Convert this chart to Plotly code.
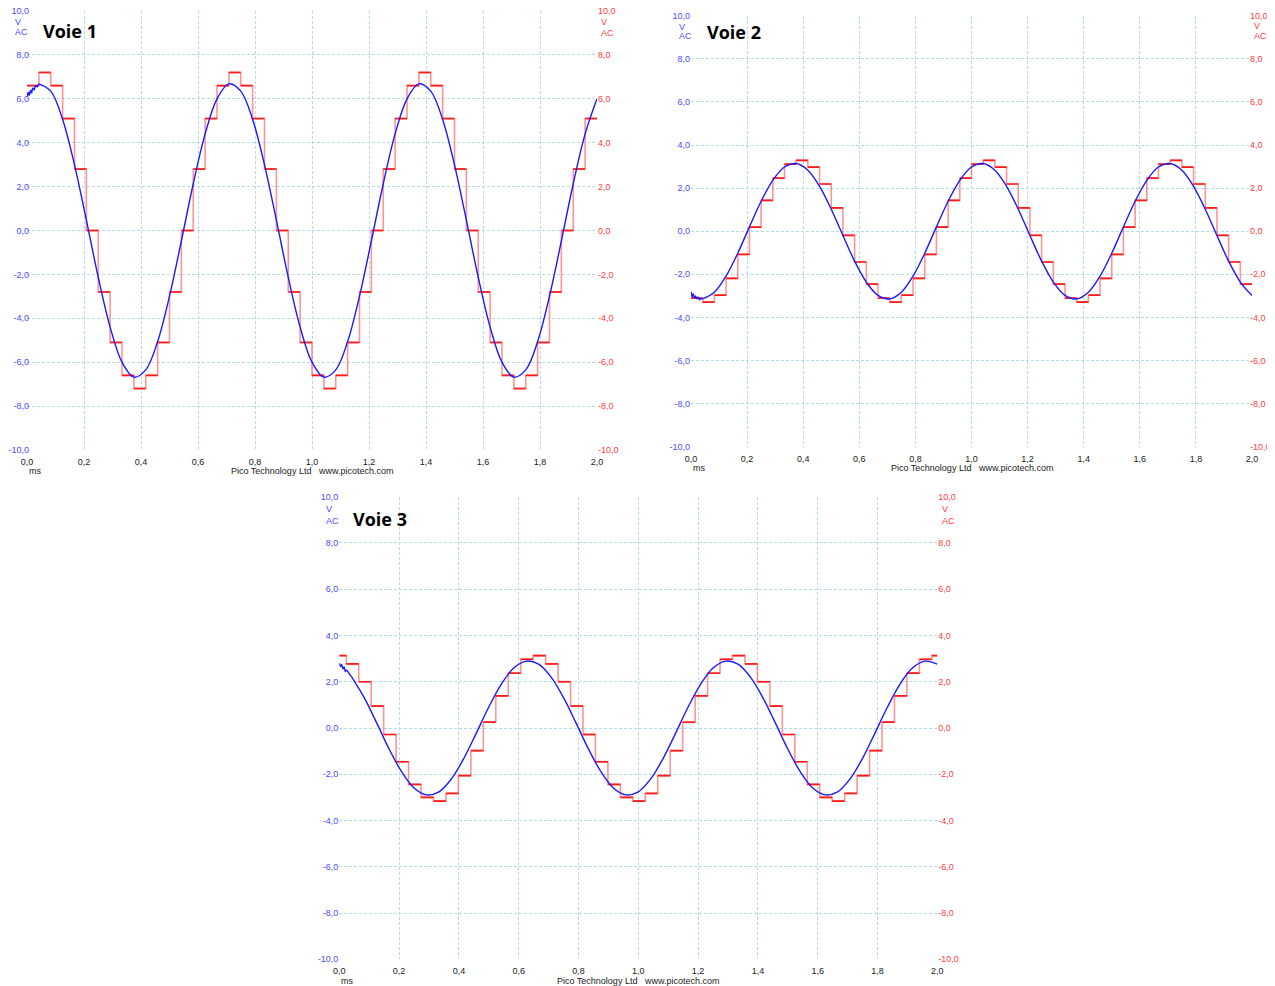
import plotly.graph_objects as go

PAGE_W, PAGE_H = 1275, 986
BODY_MARGIN = 8  # default page margin around the figure
W, H = PAGE_W - BODY_MARGIN, PAGE_H - BODY_MARGIN

# ---------------- data ----------------
X_TICKS = [0.0, 0.2, 0.4, 0.6, 0.8, 1.0, 1.2, 1.4, 1.6, 1.8, 2.0]
X_TICK_TEXT = ["0,0", "0,2", "0,4", "0,6", "0,8", "1,0", "1,2", "1,4", "1,6", "1,8", "2,0"]
Y_TICKS = [-10, -8, -6, -4, -2, 0, 2, 4, 6, 8, 10]
Y_TICK_TEXT = ["-10,0", "-8,0", "-6,0", "-4,0", "-2,0", "0,0", "2,0", "4,0", "6,0", "8,0", "10,0"]
TIME_END = 2.0
STEP_MS = 1 / 24  # duration of one DAC step (ms)

# noisy start of the blue traces (ms)
blue_head_t = [0.0, 0.004, 0.008, 0.012, 0.016, 0.02, 0.025, 0.03, 0.036]
v1_blue_head = [6.1, 6.3, 6.15, 6.4, 6.25, 6.5, 6.4, 6.6, 6.55]
v2_blue_head = [-2.8, -3.05, -2.9, -3.1, -3.0, -3.15, -3.05, -3.18, -3.12]
v3_blue_head = [2.8, 2.65, 2.75, 2.55, 2.65, 2.45, 2.5, 2.38, 2.3]

# blue (measured) samples at t = k*STEP_MS, k = 1..48
v1_blue = [6.68, 6.35, 5.06, 2.99, 0.47, -2.13, -4.40, -6.00, -6.68, -6.35, -5.06, -2.99, -0.47, 2.13, 4.40, 6.00,
           6.68, 6.35, 5.06, 2.99, 0.47, -2.13, -4.40, -6.00, -6.68, -6.35, -5.06, -2.99, -0.47, 2.13, 4.40, 6.00,
           6.68, 6.35, 5.06, 2.99, 0.47, -2.13, -4.40, -6.00, -6.68, -6.35, -5.06, -2.99, -0.47, 2.13, 4.40, 6.00]
v2_blue = [-3.14, -2.83, -2.08, -1.02, 0.20, 1.39, 2.36, 2.98, 3.14, 2.83, 2.08, 1.02, -0.20, -1.39, -2.36, -2.98,
           -3.14, -2.83, -2.08, -1.02, 0.20, 1.39, 2.36, 2.98, 3.14, 2.83, 2.08, 1.02, -0.20, -1.39, -2.36, -2.98,
           -3.14, -2.83, -2.08, -1.02, 0.20, 1.39, 2.36, 2.98, 3.14, 2.83, 2.08, 1.02, -0.20, -1.39, -2.36, -2.98]
v3_blue = [2.20, 1.31, 0.22, -0.91, -1.89, -2.59, -2.89, -2.76, -2.20, -1.31, -0.22, 0.91, 1.89, 2.59, 2.89, 2.76,
           2.20, 1.31, 0.22, -0.91, -1.89, -2.59, -2.89, -2.76, -2.20, -1.31, -0.22, 0.91, 1.89, 2.59, 2.89, 2.76,
           2.20, 1.31, 0.22, -0.91, -1.89, -2.59, -2.89, -2.76, -2.20, -1.31, -0.22, 0.91, 1.89, 2.59, 2.89, 2.76]

# red (DAC staircase) levels, one per step
v1_red = [6.6, 7.2, 6.6, 5.1, 2.8, 0.0, -2.8, -5.1, -6.6, -7.2, -6.6, -5.1, -2.8, 0.0, 2.8, 5.1,
          6.6, 7.2, 6.6, 5.1, 2.8, 0.0, -2.8, -5.1, -6.6, -7.2, -6.6, -5.1, -2.8, 0.0, 2.8, 5.1,
          6.6, 7.2, 6.6, 5.1, 2.8, 0.0, -2.8, -5.1, -6.6, -7.2, -6.6, -5.1, -2.8, 0.0, 2.8, 5.1]
v2_red = [-3.11, -3.29, -2.97, -2.19, -1.08, 0.19, 1.43, 2.46, 3.11, 3.29, 2.97, 2.19, 1.08, -0.19, -1.43, -2.46,
          -3.11, -3.29, -2.97, -2.19, -1.08, 0.19, 1.43, 2.46, 3.11, 3.29, 2.97, 2.19, 1.08, -0.19, -1.43, -2.46,
          -3.11, -3.29, -2.97, -2.19, -1.08, 0.19, 1.43, 2.46, 3.11, 3.29, 2.97, 2.19, 1.08, -0.19, -1.43, -2.46]
v3_red = [3.13,
          2.77, 2.0, 0.95, -0.28, -1.46, -2.44, -3.0, -3.16, -2.83, -2.06, -0.98, 0.25, 1.39, 2.37, 2.97, 3.13,
          2.77, 2.0, 0.95, -0.28, -1.46, -2.44, -3.0, -3.16, -2.83, -2.06, -0.98, 0.25, 1.39, 2.37, 2.97, 3.13,
          2.77, 2.0, 0.95, -0.28, -1.46, -2.44, -3.0, -3.16, -2.83, -2.06, -0.98, 0.25, 1.39, 2.37, 2.97, 3.13]
v3_red_offset = 0.0234  # first step change of channel 3 (ms)

# ---------------- layout (page-pixel boxes of each scope panel) ----------------
panels = [
    dict(title="Voie 1", box=(27, 597, 11, 450), blue=v1_blue, head=v1_blue_head, red=v1_red, red_off=None,
         title_xy=(40.5, 31), vl=(13, 22.5, 32), vr=(599, 22.5, 33), ms_y=471, lstand=-3, rstand=0),
    dict(title="Voie 2", box=(691, 1252, 15.7, 446.7), blue=v2_blue, head=v2_blue_head, red=v2_red, red_off=None,
         title_xy=(705, 32), vl=(677, 27, 36), vr=(1252, 26.5, 36), ms_y=468, lstand=0, rstand=-3),
    dict(title="Voie 3", box=(339.3, 937.3, 496.7, 959.3), blue=v3_blue, head=v3_blue_head, red=v3_red,
         red_off=v3_red_offset, title_xy=(351, 519), vl=(324, 509, 520.5), vr=(940, 509, 520.5), ms_y=981,
         lstand=0, rstand=0),
]

BLUE = "#1a1aff"
RED = "#ff1a1a"
PINK = "rgba(255,60,60,0.55)"
LBL_BLUE = "#4a4aff"
LBL_RED = "#ff4040"
GRID = "#b2dcea"
TICK_FONT = dict(family="Liberation Sans, Arial", size=9)


def px(x):
    return (x - BODY_MARGIN) / W


def py(y):
    return 1 - (y - BODY_MARGIN) / H


fig = go.Figure()
layout = dict(width=W, height=H, margin=dict(l=0, r=0, t=0, b=0, pad=0, autoexpand=False), autosize=False,
              paper_bgcolor="white", plot_bgcolor="white", showlegend=False)
annotations = []

for i, p in enumerate(panels):
    n = i + 1
    xa = "x" if n == 1 else f"x{n}"
    ya_l = "y" if n == 1 else f"y{2 * n - 1}"
    ya_r = f"y{2 * n}"
    x0, x1, y0, y1 = p["box"]

    # red staircase
    levels = p["red"]
    if p["red_off"] is None:
        starts = [k * STEP_MS for k in range(len(levels))]
    else:
        starts = [0.0] + [p["red_off"] + j * STEP_MS for j in range(len(levels) - 1)]
    ends = starts[1:] + [TIME_END]
    fig.add_trace(go.Scatter(x=starts + [TIME_END], y=levels + [levels[-1]], mode="lines",
                             line=dict(color=PINK, width=1.6, shape="hv"), xaxis=xa, yaxis=ya_l,
                             hoverinfo="skip"))
    hx, hy = [], []
    for s, e, L in zip(starts, ends, levels):
        hx += [s, e, None]
        hy += [L, L, None]
    fig.add_trace(go.Scatter(x=hx, y=hy, mode="lines", line=dict(color=RED, width=1.7),
                             xaxis=xa, yaxis=ya_l, hoverinfo="skip"))

    # blue measured signal (drawn on the right-hand overlay axis so it sits on top)
    t_body = [k * STEP_MS for k in range(1, len(p["blue"]) + 1)]
    fig.add_trace(go.Scatter(x=blue_head_t + [t_body[0]], y=p["head"] + [p["blue"][0]], mode="lines",
                             line=dict(color=BLUE, width=1.4), xaxis=xa, yaxis=ya_r))
    fig.add_trace(go.Scatter(x=t_body, y=p["blue"], mode="lines",
                             line=dict(color=BLUE, width=1.4, shape="spline", smoothing=1.0),
                             xaxis=xa, yaxis=ya_r))

    xkey = "xaxis" if n == 1 else f"xaxis{n}"
    ylkey = "yaxis" if n == 1 else f"yaxis{2 * n - 1}"
    yrkey = f"yaxis{2 * n}"
    layout[xkey] = dict(domain=[px(x0), px(x1)], anchor=ya_l, range=[0, TIME_END], automargin=False,
                        tickvals=X_TICKS, ticktext=X_TICK_TEXT, tickfont=dict(color="#222222", **TICK_FONT),
                        showgrid=True, gridcolor=GRID, gridwidth=1, griddash="3px,2px",
                        zeroline=False, showline=False, ticks="", ticklabelstandoff=5,
                        ticklabeloverflow="allow", fixedrange=True)
    layout[ylkey] = dict(domain=[py(y1), py(y0)], anchor=xa, range=[-10, 10], automargin=False,
                         tickvals=Y_TICKS, ticktext=Y_TICK_TEXT, tickfont=dict(color=LBL_BLUE, **TICK_FONT),
                         showgrid=True, gridcolor=GRID, gridwidth=1, griddash="3px,2px",
                         zeroline=False, showline=False, ticks="", ticklabelstandoff=p["lstand"],
                         ticklabeloverflow="allow", fixedrange=True)
    layout[yrkey] = dict(overlaying=ya_l, side="right", anchor=xa, range=[-10, 10], automargin=False,
                         tickvals=Y_TICKS, ticktext=Y_TICK_TEXT, tickfont=dict(color=LBL_RED, **TICK_FONT),
                         showgrid=False, zeroline=False, showline=False, ticks="", ticklabeloverflow="allow",
                         ticklabelstandoff=p["rstand"], fixedrange=True)

    # texts
    tx, ty = p["title_xy"]
    annotations.append(dict(text="<b>" + p["title"] + "</b>", x=px(tx), y=py(ty), xref="paper", yref="paper",
                            xanchor="left", yanchor="middle", showarrow=False,
                            font=dict(family="Open Sans", size=18, color="black")))
    lx, vy, acy = p["vl"]
    for txt, yy in (("V", vy), ("AC", acy)):
        annotations.append(dict(text=txt, x=px(lx), y=py(yy), xref="paper", yref="paper",
                                xanchor="left", yanchor="middle", showarrow=False,
                                font=dict(color=LBL_BLUE, **TICK_FONT)))
    rx, vy, acy = p["vr"]
    for txt, yy in (("V", vy), ("AC", acy)):
        annotations.append(dict(text=txt, x=px(rx), y=py(yy), xref="paper", yref="paper",
                                xanchor="left", yanchor="middle", showarrow=False,
                                font=dict(color=LBL_RED, **TICK_FONT)))
    annotations.append(dict(text="ms", x=px(x0), y=py(p["ms_y"]), xref="paper", yref="paper",
                            xanchor="left", yanchor="middle", showarrow=False,
                            font=dict(color="#222222", **TICK_FONT)))
    annotations.append(dict(text="Pico Technology Ltd   www.picotech.com", x=px((x0 + x1) / 2),
                            y=py(p["ms_y"]), xref="paper", yref="paper", xanchor="center",
                            yanchor="middle", showarrow=False, font=dict(color="#222222", **TICK_FONT)))

layout["annotations"] = annotations
fig.update_layout(**layout)
fig.write_html("out.html")
